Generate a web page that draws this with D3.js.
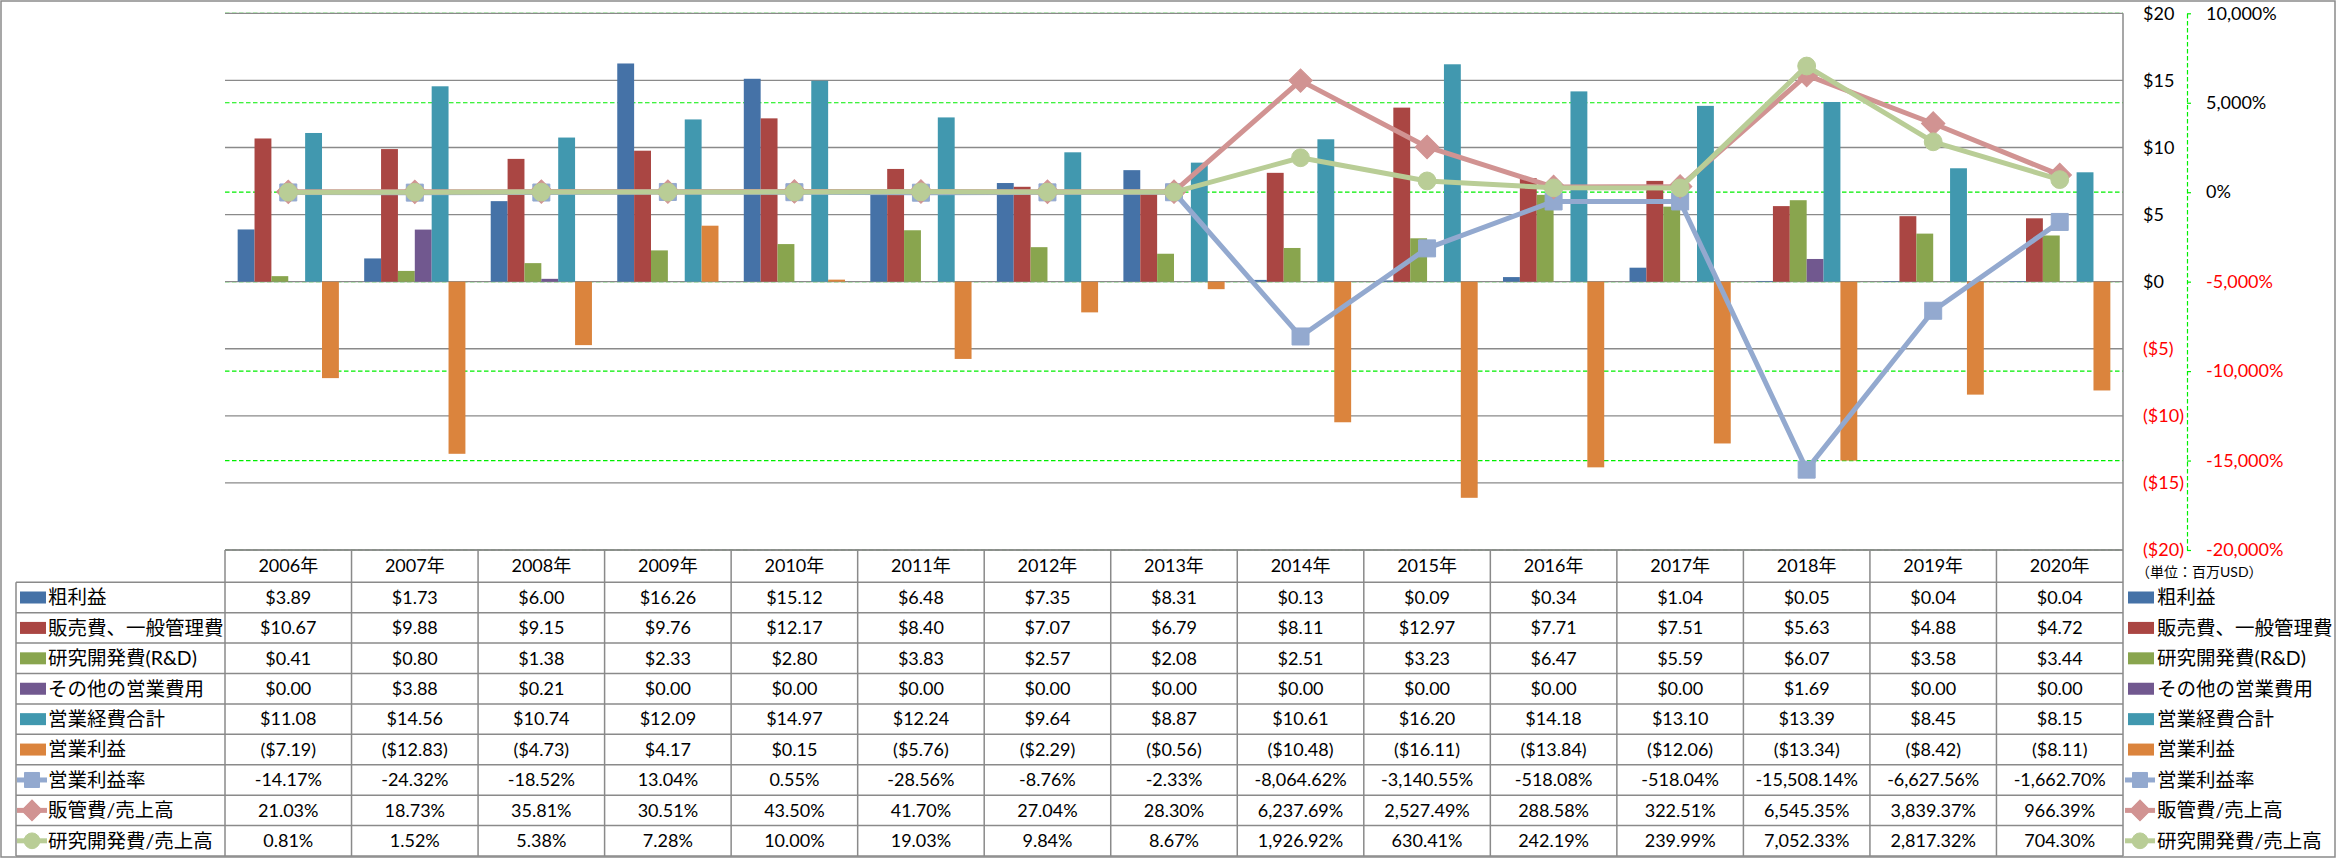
<!DOCTYPE html>
<html><head><meta charset="utf-8">
<script src="https://cdn.jsdelivr.net/npm/d3@7"></script>
<style>
html,body{margin:0;padding:0;background:#fff;}
svg{display:block;}
text{font-family: Lato, "Noto Sans CJK JP", sans-serif;}
</style></head><body>
<svg id="chart" width="2336" height="858"></svg>
<script>
// ---------------- data ----------------
const years = ["2006年","2007年","2008年","2009年","2010年","2011年","2012年","2013年","2014年","2015年","2016年","2017年","2018年","2019年","2020年"];
const grossProfit = [3.89,1.73,6.00,16.26,15.12,6.48,7.35,8.31,0.13,0.09,0.34,1.04,0.05,0.04,0.04];
const sgaExpense  = [10.67,9.88,9.15,9.76,12.17,8.40,7.07,6.79,8.11,12.97,7.71,7.51,5.63,4.88,4.72];
const rndExpense  = [0.41,0.80,1.38,2.33,2.80,3.83,2.57,2.08,2.51,3.23,6.47,5.59,6.07,3.58,3.44];
const otherOpex   = [0.00,3.88,0.21,0.00,0.00,0.00,0.00,0.00,0.00,0.00,0.00,0.00,1.69,0.00,0.00];
const totalOpex   = [11.08,14.56,10.74,12.09,14.97,12.24,9.64,8.87,10.61,16.20,14.18,13.10,13.39,8.45,8.15];
const opIncome    = [-7.19,-12.83,-4.73,4.17,0.15,-5.76,-2.29,-0.56,-10.48,-16.11,-13.84,-12.06,-13.34,-8.42,-8.11];
const opMargin    = [-14.17,-24.32,-18.52,13.04,0.55,-28.56,-8.76,-2.33,-8064.62,-3140.55,-518.08,-518.04,-15508.14,-6627.56,-1662.70];
const sgaRatio    = [21.03,18.73,35.81,30.51,43.50,41.70,27.04,28.30,6237.69,2527.49,288.58,322.51,6545.35,3839.37,966.39];
const rndRatio    = [0.81,1.52,5.38,7.28,10.00,19.03,9.84,8.67,1926.92,630.41,242.19,239.99,7052.33,2817.32,704.30];
const dollarTicks = [20,15,10,5,0,-5,-10,-15,-20];
const pctTicks    = [10000,5000,0,-5000,-10000,-15000,-20000];
const unitLabel   = "（単位：百万USD）";

const barSeries = [
  {name:"粗利益", values:grossProfit, color:"#4572A7"},
  {name:"販売費、一般管理費", values:sgaExpense, color:"#AA4643"},
  {name:"研究開発費(R&D)", values:rndExpense, color:"#89A54E"},
  {name:"その他の営業費用", values:otherOpex, color:"#71588F"},
  {name:"営業経費合計", values:totalOpex, color:"#4198AF"},
  {name:"営業利益", values:opIncome, color:"#DB843D"}
];
const lineSeries = [
  {name:"営業利益率", values:opMargin, color:"#93A9CF", marker:"square"},
  {name:"販管費/売上高", values:sgaRatio, color:"#D19392", marker:"diamond"},
  {name:"研究開発費/売上高", values:rndRatio, color:"#B9CD96", marker:"circle"}
];

// ---------------- layout ----------------
const L = 225, R = 2123, T = 13.3, B = 550;
const tableTop = 550, headBottom = 582.3, tableBottom = 856;
const svg = d3.select("#chart");
const RED = "#FF0000", GRID = "#8a8a8a", GREEN = "#00EE00";

const x = d3.scaleBand().domain(years).range([L, R]);
const step = x.bandwidth();
const xs = d3.scaleBand().domain(barSeries.map(s=>s.name)).range([step*0.1, step*0.9]);
const yD = d3.scaleLinear().domain([-20,20]).range([B, T]);
const yP = d3.scaleLinear().domain([-20000,10000]).range([B, T]);

const fmtDollar = v => v < 0 ? "($" + (-v).toFixed(2) + ")" : "$" + v.toFixed(2);
const fmtDollarAxis = v => v < 0 ? "($" + (-v) + ")" : "$" + v;
const fmtPctAxis = v => (v < 0 ? "-" : "") + d3.format(",")(Math.abs(v)) + "%";
const fmtPct = v => (v < 0 ? "-" : "") + d3.format(",.2f")(Math.abs(v)) + "%";

// outer border
svg.append("rect").attr("x",1).attr("y",1).attr("width",2334).attr("height",856)
  .attr("fill","#fff").attr("stroke",GRID).attr("stroke-width",1.5);

// green dashed gridlines (percent axis)
svg.append("g").selectAll("line").data(pctTicks).join("line")
  .attr("x1",L).attr("x2",R).attr("y1",d=>yP(d)).attr("y2",d=>yP(d))
  .attr("stroke",GREEN).attr("stroke-width",1.2).attr("stroke-dasharray","4.5,2.5");

// gray gridlines (dollar axis)
svg.append("g").selectAll("line").data(dollarTicks).join("line")
  .attr("x1",L).attr("x2",R).attr("y1",d=>yD(d)).attr("y2",d=>yD(d))
  .attr("stroke",GRID).attr("stroke-width",1.3);

// bars
const barG = svg.append("g");
barSeries.forEach(s => {
  barG.append("g").selectAll("rect").data(s.values.map((v,i)=>({v, year:years[i]}))).join("rect")
    .attr("x", d => x(d.year) + xs(s.name))
    .attr("width", xs.bandwidth())
    .attr("y", d => yD(Math.max(0,d.v)))
    .attr("height", d => Math.abs(yD(d.v) - yD(0)))
    .attr("fill", s.color);
});

// markers
function markerPath(type, size){
  if (type === "square") return d3.symbol(d3.symbolSquare, size*size)();
  if (type === "diamond") return d3.symbol(d3.symbolSquare, size*size*0.95)();
  return d3.symbol(d3.symbolCircle, Math.PI*(size/2)*(size/2)*1.1)();
}
function drawMarker(g, type, cx, cy, color, size){
  g.append("path").attr("d", markerPath(type,size))
    .attr("transform", `translate(${cx},${cy})` + (type==="diamond" ? " rotate(45)" : ""))
    .attr("fill", color).attr("stroke", color).attr("stroke-width",1);
}

// lines
const lineG = svg.append("g");
lineSeries.forEach(s => {
  const pts = s.values.map((v,i)=>({v, year:years[i]}));
  const g = lineG.append("g");
  g.append("path").datum(pts)
    .attr("d", d3.line().x(d=>x(d.year)+step/2).y(d=>yP(d.v)))
    .attr("fill","none").attr("stroke",s.color).attr("stroke-width",5)
    .attr("stroke-linejoin","round").attr("stroke-linecap","round");
  pts.forEach(d => drawMarker(g, s.marker, x(d.year)+step/2, yP(d.v), s.color, 17));
});

// right vertical line of plot/table
svg.append("line").attr("x1",R).attr("x2",R).attr("y1",T).attr("y2",tableBottom)
  .attr("stroke",GRID).attr("stroke-width",1.5);

// dollar axis
const axD = svg.append("g").attr("transform",`translate(${R},0)`)
  .call(d3.axisRight(yD).tickValues(dollarTicks).tickSize(0).tickPadding(20).tickFormat(fmtDollarAxis));
axD.select(".domain").remove();
axD.selectAll("text").attr("font-size",18).attr("font-family",null)
  .attr("fill", d => d < 0 ? RED : "#000");

// percent axis
const axP = svg.append("g").attr("transform",`translate(2187,0)`)
  .call(d3.axisRight(yP).tickValues(pctTicks).tickSizeInner(4).tickSizeOuter(0).tickPadding(15).tickFormat(fmtPctAxis));
axP.select(".domain").attr("stroke",GREEN).attr("stroke-width",1.2).attr("stroke-dasharray","4.5,2.5");
axP.selectAll(".tick line").attr("stroke",GREEN).attr("stroke-width",1.2);
axP.selectAll("text").attr("font-size",18).attr("font-family",null)
  .attr("fill", d => d < 0 ? RED : "#000");

// ---------------- data table ----------------
const rows = [
  ...barSeries.map(s=>({...s, kind:"bar", fmt:fmtDollar})),
  ...lineSeries.map(s=>({...s, kind:"line", fmt:fmtPct}))
];
const yRow = d3.scaleBand().domain(rows.map(r=>r.name)).range([headBottom, tableBottom]);
const tbl = svg.append("g");

// horizontal lines
tbl.append("line").attr("x1",L).attr("x2",R).attr("y1",tableTop).attr("y2",tableTop)
  .attr("stroke",GRID).attr("stroke-width",1.5);
const hY = rows.map(r=>yRow(r.name)).concat([tableBottom]);
tbl.selectAll(".hl").data(hY).join("line").attr("class","hl")
  .attr("x1",16).attr("x2",R).attr("y1",d=>d).attr("y2",d=>d)
  .attr("stroke",GRID).attr("stroke-width",1.5);
// vertical lines
tbl.append("line").attr("x1",16).attr("x2",16).attr("y1",headBottom).attr("y2",tableBottom)
  .attr("stroke",GRID).attr("stroke-width",1.5);
tbl.selectAll(".vl").data(years).join("line").attr("class","vl")
  .attr("x1",d=>x(d)).attr("x2",d=>x(d)).attr("y1",tableTop).attr("y2",tableBottom)
  .attr("stroke",GRID).attr("stroke-width",1.5);

// header years
tbl.selectAll(".yr").data(years).join("text").attr("class","yr")
  .attr("x",d=>x(d)+step/2).attr("y",(tableTop+headBottom)/2).attr("dy","0.35em")
  .attr("text-anchor","middle").attr("font-size",18).text(d=>d);

// legend key helper
function drawKey(g, r, x0, cy, w){
  if (r.kind === "bar") {
    g.append("rect").attr("x",x0).attr("y",cy-6).attr("width",w).attr("height",12).attr("fill",r.color);
  } else {
    g.append("line").attr("x1",x0-3).attr("x2",x0+w+1).attr("y1",cy).attr("y2",cy)
      .attr("stroke",r.color).attr("stroke-width",5);
    drawMarker(g, r.marker, x0+w/2-1, cy, r.color, 15);
  }
}

rows.forEach(r => {
  const cy = yRow(r.name) + yRow.bandwidth()/2;
  drawKey(tbl, r, 20, cy, 26);
  tbl.append("text").attr("x",48).attr("y",cy).attr("dy","0.35em").attr("font-size",19.5).text(r.name);
  tbl.append("g").selectAll("text").data(r.values.map((v,i)=>({v,year:years[i]}))).join("text")
    .attr("x",d=>x(d.year)+step/2).attr("y",cy).attr("dy","0.35em")
    .attr("text-anchor","middle").attr("font-size",18).text(d=>r.fmt(d.v));
  // right legend
  drawKey(tbl, r, 2128, cy, 26);
  tbl.append("text").attr("x",2157).attr("y",cy).attr("dy","0.35em").attr("font-size",19.5).text(r.name);
});

svg.append("text").attr("x",2136).attr("y",572).attr("dy","0.35em").attr("font-size",14).text(unitLabel);
</script>
</body></html>
